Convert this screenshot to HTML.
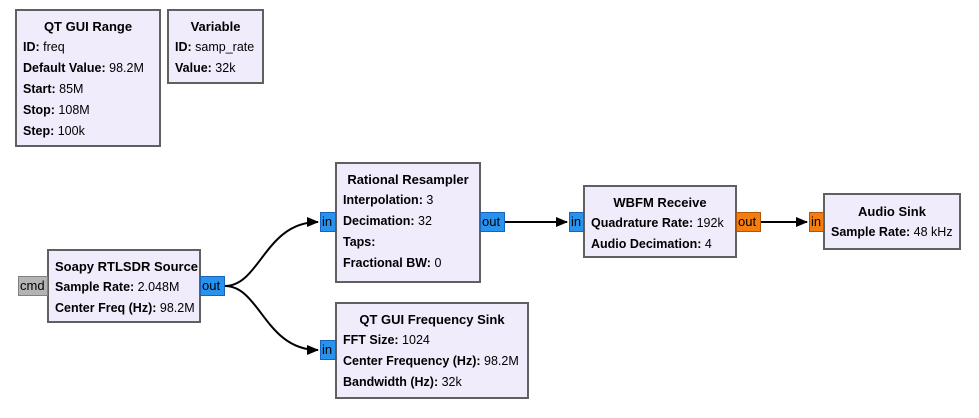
<!DOCTYPE html>
<html><head><meta charset="utf-8"><style>
body{margin:0;width:979px;height:418px;background:#fff;position:relative;overflow:hidden;font-family:"Liberation Sans","DejaVu Sans",sans-serif;font-size:12.5px;color:#000}
.b{position:absolute;box-sizing:border-box;background:#f0ecfc;border:2px solid #606060;padding:5px 6px 0 6px;line-height:21px;white-space:nowrap}
.t{font-weight:bold;font-size:13px;text-align:center}
.r b{font-weight:bold}
.p{position:absolute;box-sizing:border-box;height:20px;line-height:17px;font-size:13px;padding-left:1px;border:1px solid #1a63b8;background:#2893ee;color:#000}
.o{background:#f57d0f;border-color:#b0560c}
.g{background:#b4b4b4;border-color:#808080}
</style></head><body>
<svg width="979" height="418" style="position:absolute;left:0;top:0">
<defs><marker id="a" markerWidth="12" markerHeight="10" refX="11" refY="5" orient="auto" markerUnits="userSpaceOnUse"><path d="M0,0 L12,5 L0,10z" fill="#000"/></marker></defs>
<g stroke="#000" stroke-width="2" fill="none">
<path d="M225,286 C260,286 265,222 318,222" marker-end="url(#a)"/>
<path d="M225,286 C260,286 265,350 318,350" marker-end="url(#a)"/>
<path d="M505,222 L567,222" marker-end="url(#a)"/>
<path d="M761,222 L807,222" marker-end="url(#a)"/>
</g></svg>
<div class="b" style="left:15px;top:9px;width:146px;height:138px"><div class="t">QT GUI Range</div><div class="r"><b>ID:</b> freq</div><div class="r"><b>Default Value:</b> 98.2M</div><div class="r"><b>Start:</b> 85M</div><div class="r"><b>Stop:</b> 108M</div><div class="r"><b>Step:</b> 100k</div></div>
<div class="b" style="left:167px;top:9px;width:97px;height:75px"><div class="t">Variable</div><div class="r"><b>ID:</b> samp_rate</div><div class="r"><b>Value:</b> 32k</div></div>
<div class="b" style="left:47px;top:249px;width:154px;height:74px"><div class="t">Soapy RTLSDR Source</div><div class="r"><b>Sample Rate:</b> 2.048M</div><div class="r"><b>Center Freq (Hz):</b> 98.2M</div></div>
<div class="p g" style="left:18px;top:276px;width:30px">cmd</div>
<div class="p" style="left:200px;top:276px;width:25px">out</div>
<div class="b" style="left:335px;top:162px;width:146px;height:121px"><div class="t">Rational Resampler</div><div class="r"><b>Interpolation:</b> 3</div><div class="r"><b>Decimation:</b> 32</div><div class="r"><b>Taps:</b></div><div class="r"><b>Fractional BW:</b> 0</div></div>
<div class="p" style="left:320px;top:212px;width:16px">in</div>
<div class="p" style="left:480px;top:212px;width:25px">out</div>
<div class="b" style="left:335px;top:302px;width:194px;height:97px"><div class="t">QT GUI Frequency Sink</div><div class="r"><b>FFT Size:</b> 1024</div><div class="r"><b>Center Frequency (Hz):</b> 98.2M</div><div class="r"><b>Bandwidth (Hz):</b> 32k</div></div>
<div class="p" style="left:320px;top:340px;width:16px">in</div>
<div class="b" style="left:583px;top:185px;width:154px;height:73px"><div class="t">WBFM Receive</div><div class="r"><b>Quadrature Rate:</b> 192k</div><div class="r"><b>Audio Decimation:</b> 4</div></div>
<div class="p" style="left:569px;top:212px;width:15px">in</div>
<div class="p o" style="left:736px;top:212px;width:25px">out</div>
<div class="b" style="left:823px;top:193px;width:138px;height:57px;padding-top:6px"><div class="t">Audio Sink</div><div class="r"><b>Sample Rate:</b> 48 kHz</div></div>
<div class="p o" style="left:809px;top:212px;width:15px">in</div>
</body></html>
